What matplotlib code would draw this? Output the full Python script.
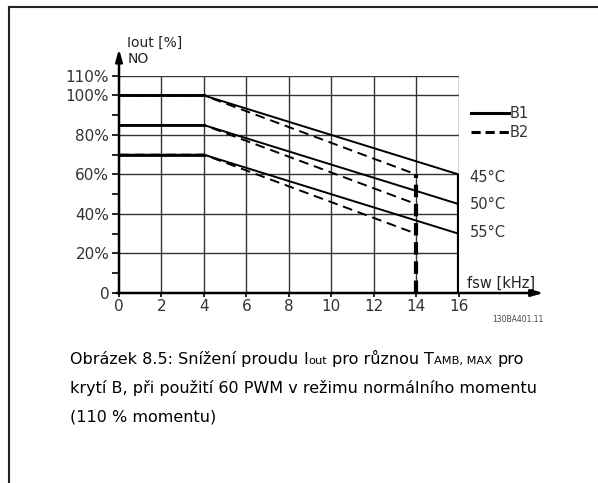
import numpy as np
import matplotlib
matplotlib.use("Agg")
import matplotlib.pyplot as plt
from matplotlib.lines import Line2D

# switching frequency breakpoints [kHz]
fsw_b1 = [0, 4, 16]
fsw_b2 = [0, 4, 14]
# output current [%] for each ambient temperature
iout_45 = [100, 100, 60]
iout_50 = [85, 85, 45]
iout_55 = [70, 70, 30]
temps = ["45°C", "50°C", "55°C"]
x_ticks = [0, 2, 4, 6, 8, 10, 12, 14, 16]
y_ticks = [0, 20, 40, 60, 80, 100, 110]
y_labels = ["0", "20%", "40%", "60%", "80%", "100%", "110%"]

W, H = 598, 483
fig = plt.figure(figsize=(W / 100, H / 100), dpi=100)
fig.patch.set_facecolor("white")

# page frame (left and top rule)
fig.add_artist(Line2D([9 / W, 9 / W], [0, 1 - 7 / H], color="#222", lw=1.5))
fig.add_artist(Line2D([9 / W, 1], [1 - 7 / H, 1 - 7 / H], color="#222", lw=1.5))

ax = fig.add_axes([119 / W, 1 - 293 / H, 339.7 / W, 217.3 / H])
ax.set_xlim(0, 16)
ax.set_ylim(0, 110)
for s in ax.spines.values():
    s.set_visible(False)

grid_c = "#333333"
for yv in [20, 40, 60, 80, 100, 110]:
    ax.plot([0, 16], [yv, yv], color=grid_c, lw=1, zorder=1)
for xv in x_ticks[1:]:
    ax.plot([xv, xv], [0, 110], color=grid_c, lw=1, zorder=1)

curves = [iout_45, iout_50, iout_55]
lab_off = [-1.5, 0, 0.5]
for vals, lab, off in zip(curves, temps, lab_off):
    ax.plot(fsw_b1, vals, color="black", lw=1.4, zorder=3)
    ax.plot(fsw_b2, vals, color="black", lw=1.4, dashes=(5, 3), zorder=3)
    ax.plot(fsw_b1[:2], vals[:2], color="black", lw=2, zorder=4)
    ax.text(16.5, vals[2] + off, lab, fontsize=10.5, color="#333",
            va="center", ha="left")

# frequency limits
ax.plot([fsw_b1[-1], fsw_b1[-1]], [0, iout_45[-1]], color="black", lw=3, zorder=4,
        solid_capstyle="butt")
ax.plot([fsw_b2[-1], fsw_b2[-1]], [0, iout_45[-1]], color="black", lw=3, zorder=4,
        dashes=(3, 1.6), dash_capstyle="butt")

# axes with arrows
ax.annotate("", xy=(0, 123.5), xytext=(0, -0.5), xycoords="data",
            arrowprops=dict(arrowstyle="-|>,head_length=0.7,head_width=0.2",
                            color="black", lw=1.8, shrinkA=0, shrinkB=0),
            annotation_clip=False)
ax.annotate("", xy=(20, 0), xytext=(-0.1, 0), xycoords="data",
            arrowprops=dict(arrowstyle="-|>,head_length=0.7,head_width=0.2",
                            color="black", lw=1.8, shrinkA=0, shrinkB=0),
            annotation_clip=False)

ax.set_xticks(x_ticks)
ax.set_xticklabels([str(v) for v in x_ticks])
ax.set_yticks(y_ticks)
ax.set_yticklabels(y_labels)
ax.set_yticks(range(10, 100, 20), minor=True)
ax.tick_params(axis="both", which="both", direction="out", color="black",
               labelcolor="#333", labelsize=11, width=1.2)
ax.tick_params(axis="y", which="both", length=5, pad=2)
ax.tick_params(axis="x", which="both", length=3, pad=1)

ax.text(0.4, 126.5, "Iout [%]", fontsize=10, color="#222", va="center")
ax.text(0.4, 118.5, "NO", fontsize=10, color="#222", va="center")
ax.text(16.4, 5, "fsw [kHz]", fontsize=10.5, color="#222", va="center")
ax.text(20.0, -13.5, "130BA401.11", fontsize=5.5, color="#444", ha="right",
        va="center")

leg = ax.legend(handles=[Line2D([], [], color="black", lw=2.2, label="B1"),
                         Line2D([], [], color="black", lw=2.2, dashes=(3, 1.6),
                                label="B2")],
                loc="upper left", bbox_to_anchor=(1.035, 0.86), frameon=False,
                handlelength=2.6, handletextpad=0.05, labelspacing=0.25,
                borderaxespad=0, borderpad=0, fontsize=10.5, labelcolor="#333")

# caption with smaller sub-parts
renderer = fig.canvas.get_renderer()
cap_font = "DejaVu Sans"
big, small = 11.5, 8.2


def space_w(size):
    a = fig.text(0, 0, "x x", fontsize=size, family=cap_font)
    b = fig.text(0, 0, "xx", fontsize=size, family=cap_font)
    w = a.get_window_extent(renderer).width - b.get_window_extent(renderer).width
    a.remove()
    b.remove()
    return w


def put_line(y_px, parts, x_px=70):
    x = x_px
    for txt, size in parts:
        lead = len(txt) - len(txt.lstrip(" "))
        trail = len(txt) - len(txt.rstrip(" "))
        sw = space_w(size)
        x += lead * sw
        t = fig.text(x / W, 1 - y_px / H, txt.strip(" "), fontsize=size,
                     family=cap_font, va="baseline", ha="left", color="black")
        x += t.get_window_extent(renderer).width + trail * sw


put_line(364, [("Obrázek 8.5: Snížení proudu ", big), ("I", big), ("out", small),
               (" pro různou ", big), ("T", big), ("AMB, MAX", small),
               (" pro", big)])
put_line(393, [("krytí B, při použití 60 PWM v režimu normálního momentu", big)])
put_line(422, [("(110 % momentu)", big)])

fig.savefig("out.png", dpi=100)
